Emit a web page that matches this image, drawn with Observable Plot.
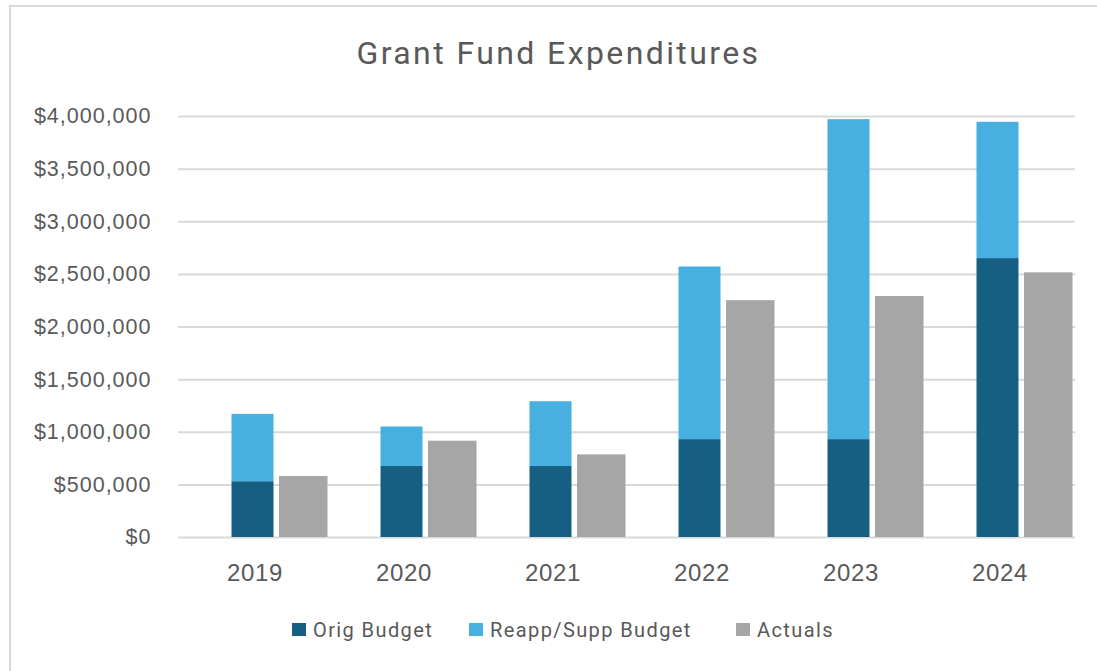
<!DOCTYPE html>
<html>
<head>
<meta charset="utf-8">
<script src="https://cdn.jsdelivr.net/npm/d3@7"></script>
<script src="https://cdn.jsdelivr.net/npm/@observablehq/plot@0.6"></script>
<style>
  html, body { margin: 0; padding: 0; background: #fff; width: 1097px; height: 671px; overflow: hidden; }
  #frame { position: absolute; left: 9px; top: 5px; width: 1100px; height: 680px; border-left: 2.5px solid #d9d9d9; border-top: 2.5px solid #d9d9d9; box-sizing: border-box; }
  #title { position: absolute; left: 0; width: 1117px; top: 34px; text-align: center; font-family: Roboto, "Liberation Sans", sans-serif; font-size: 32px; letter-spacing: 2.4px; color: #595959; line-height: 38px; }
  #chart { position: absolute; left: 0; top: 90px; }
  #chart g[aria-label="y-axis tick label"] text { letter-spacing: 1px; }
  #chart g[aria-label="x-axis tick label"] text { letter-spacing: 0.6px; }
  .leg { position: absolute; top: 619px; font-family: Roboto, "Liberation Sans", sans-serif; font-size: 20px; letter-spacing: 1.4px; color: #595959; line-height: 22px; white-space: nowrap; }
  .sw { position: absolute; width: 14px; height: 13px; top: 4px; left: 0; }
  .lt { position: absolute; left: 21px; top: 0; }
</style>
</head>
<body>
<div id="frame"></div>
<div id="title">Grant Fund Expenditures</div>
<div id="chart"></div>
<div id="legend"></div>
<script>
const years = ["2019", "2020", "2021", "2022", "2023", "2024"];
const origBudget = [530000, 675000, 675000, 930000, 930000, 2650000];
const reappBudget = [640000, 375000, 615000, 1640000, 3040000, 1295000];
const actuals = [580000, 915000, 785000, 2250000, 2290000, 2515000];
const yTicks = [0, 500000, 1000000, 1500000, 2000000, 2500000, 3000000, 3500000, 4000000];
const seriesNames = ["Orig Budget", "Reapp/Supp Budget", "Actuals"];
const seriesColors = ["#156082", "#47B0E0", "#A6A6A6"];

const budgetRows = [];
years.forEach((y, i) => {
  budgetRows.push({year: y, series: seriesNames[0], value: origBudget[i]});
  budgetRows.push({year: y, series: seriesNames[1], value: reappBudget[i]});
});
const actualRows = years.map((y, i) => ({year: y, series: seriesNames[2], value: actuals[i]}));

const chart = Plot.plot({
  width: 1097,
  height: 507,
  marginLeft: 178,
  marginRight: 22,
  marginTop: 26,
  marginBottom: 60,
  style: {fontFamily: "'Liberation Sans', Arial, sans-serif", color: "#595959", background: "transparent"},
  x: {domain: years, padding: 0, label: null},
  y: {domain: [0, 4000000], label: null},
  color: {domain: seriesNames, range: seriesColors},
  marks: [
    Plot.ruleY(yTicks, {stroke: "#d9d9d9", strokeWidth: 2}),
    Plot.barY(budgetRows, Plot.stackY({x: "year", y: "value", fill: "series", order: seriesNames, insetLeft: 51.5, insetRight: 55.5})),
    Plot.barY(actualRows, {x: "year", y: "value", fill: "series", insetLeft: 99, insetRight: 1.5}),
    Plot.axisY({ticks: yTicks, tickFormat: d3.format("$,"), tickSize: 0, tickPadding: 27, fontSize: 21.5, label: null}),
    Plot.axisX({tickSize: 0, tickPadding: 26, fontSize: 24, label: null})
  ]
});
document.getElementById("chart").appendChild(chart);

const legPos = [292, 469, 736];
const legend = document.getElementById("legend");
seriesNames.forEach((name, i) => {
  const item = document.createElement("div");
  item.className = "leg";
  item.style.left = legPos[i] + "px";
  item.innerHTML = `<span class="sw" style="background:${seriesColors[i]}"></span><span class="lt">${name}</span>`;
  legend.appendChild(item);
});
</script>
</body>
</html>
